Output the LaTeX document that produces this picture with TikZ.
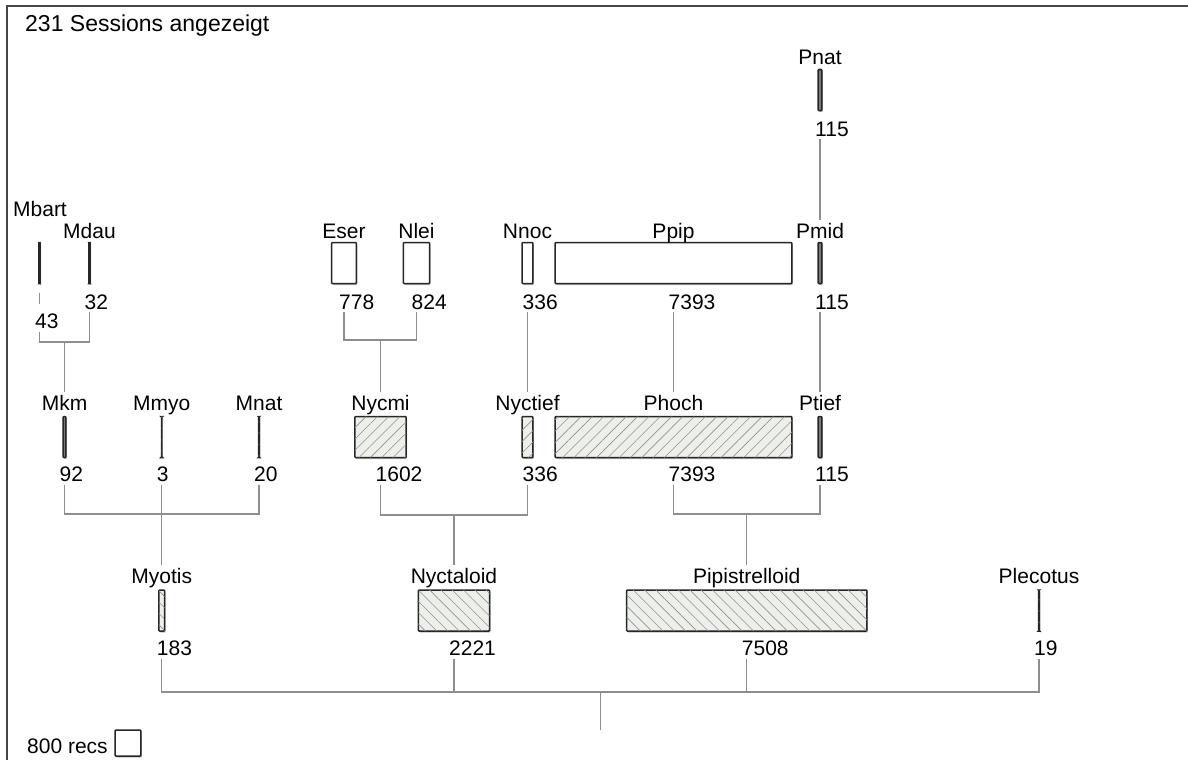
\documentclass[tikz,border=0pt]{standalone}
\usepackage{fontspec}
\setmainfont{Liberation Sans}
\usetikzlibrary{patterns.meta,shadows}
\definecolor{conn}{HTML}{8E8E8E}
\definecolor{edgec}{HTML}{262626}
\definecolor{hbg}{HTML}{EDEFEA}
\definecolor{hline}{HTML}{8F948D}
\definecolor{framec}{HTML}{474747}
\definecolor{thinfill}{HTML}{7A7A7A}
\begin{document}
\begin{tikzpicture}[x=1pt,y=-1pt,
  lbl/.style={font=\fontsize{21}{24}\selectfont, inner sep=0pt, anchor=base},
  val/.style={font=\fontsize{21}{24}\selectfont, inner sep=0pt, anchor=base west},
  bx/.style={draw=edgec, line width=1.5pt, inner sep=0pt, minimum height=41pt, minimum width=#1*0.032pt, rounded corners=0.8pt, drop shadow={shadow xshift=1pt, shadow yshift=-1.5pt, opacity=0.25, fill=black}},
  boxW/.style={bx=#1, fill=white},
  boxC/.style={bx=#1, fill=hbg, postaction={pattern={Lines[angle=45,distance=8pt,line width=0.6pt]}, pattern color=hline}},
  boxD/.style={bx=#1, fill=hbg, postaction={pattern={Lines[angle=-45,distance=8pt,line width=0.6pt]}, pattern color=hline}},
  thinbar/.style={bx=#1, fill=thinfill},
  link/.style={draw=conn, line width=1.3pt, shorten <=3pt, shorten >=3pt},
]
\useasboundingbox (0,0) rectangle (1188,760);
\fill[white] (0,0) rectangle (1188,760);
% frame
\draw[framec, line width=2.2pt] (7,760) -- (7,6) -- (1188,6);
% title
\node[anchor=base west, font=\fontsize{23}{27}\selectfont, inner sep=0pt] (title) at (25,32) {231 Sessions angezeigt};

% ---------- Row A ----------
\node[thinbar=115] (pnat) at (820,90) {};
\node[lbl] (pnatL) at (820,64) {Pnat};
\node[val] (pnatV) at (815,136) {115};

% ---------- Row B ----------
\node[boxW=43] (mbart) at (39.5,263) {};
\node[lbl] (mbartL) at (40,216.5) {Mbart};
\node[val] (mbartV) at (35,328.5) {43};
\node[boxW=32] (mdau) at (89.5,263) {};
\node[lbl] (mdauL) at (89.5,238) {Mdau};
\node[val] (mdauV) at (84.5,309) {32};
\node[boxW=778] (eser) at (344,263) {};
\node[lbl] (eserL) at (344,238) {Eser};
\node[val] (eserV) at (339,309) {778};
\node[boxW=824] (nlei) at (416.5,263) {};
\node[lbl] (nleiL) at (416.5,238) {Nlei};
\node[val] (nleiV) at (411.5,309) {824};
\node[boxW=336] (nnoc) at (527.5,263) {};
\node[lbl] (nnocL) at (527.5,238) {Nnoc};
\node[val] (nnocV) at (522.5,309) {336};
\node[boxW=7393] (ppip) at (673.5,263) {};
\node[lbl] (ppipL) at (673.5,238) {Ppip};
\node[val] (ppipV) at (668.5,309) {7393};
\node[thinbar=115] (pmid) at (820,263) {};
\node[lbl] (pmidL) at (820,238) {Pmid};
\node[val] (pmidV) at (815,309) {115};

% ---------- Row C ----------
\node[thinbar=92] (mkm) at (64.5,437) {};
\node[lbl] (mkmL) at (64.5,410.5) {Mkm};
\node[val] (mkmV) at (59.5,481.5) {92};
\node[boxC=3] (mmyo) at (161.75,437) {};
\node[lbl] (mmyoL) at (161.75,410.5) {Mmyo};
\node[val] (mmyoV) at (156.75,481.5) {3};
\node[boxC=20] (mnat) at (259,437) {};
\node[lbl] (mnatL) at (259,410.5) {Mnat};
\node[val] (mnatV) at (254,481.5) {20};
\node[boxC=1602] (nycmi) at (380.5,437) {};
\node[lbl] (nycmiL) at (380.5,410.5) {Nycmi};
\node[val] (nycmiV) at (375.5,481.5) {1602};
\node[boxC=336] (nyctief) at (527.5,437) {};
\node[lbl] (nyctiefL) at (527.5,410.5) {Nyctief};
\node[val] (nyctiefV) at (522.5,481.5) {336};
\node[boxC=7393] (phoch) at (673.5,437) {};
\node[lbl] (phochL) at (673.5,410.5) {Phoch};
\node[val] (phochV) at (668.5,481.5) {7393};
\node[thinbar=115] (ptief) at (820,437) {};
\node[lbl] (ptiefL) at (820,410.5) {Ptief};
\node[val] (ptiefV) at (815,481.5) {115};

% ---------- Row D ----------
\node[boxD=183] (myotis) at (161.75,610.5) {};
\node[lbl] (myotisL) at (161.75,583.5) {Myotis};
\node[val] (myotisV) at (156.75,655.5) {183};
\node[boxD=2221] (nyctaloid) at (454,610.5) {};
\node[lbl] (nyctaloidL) at (454,583.5) {Nyctaloid};
\node[val] (nyctaloidV) at (449,655.5) {2221};
\node[boxD=7508] (pip) at (746.75,610.5) {};
\node[lbl] (pipL) at (746.75,583.5) {Pipistrelloid};
\node[val] (pipV) at (741.75,655.5) {7508};
\node[boxD=19] (plec) at (1039,610.5) {};
\node[lbl] (plecL) at (1039,583.5) {Plecotus};
\node[val] (plecV) at (1034,655.5) {19};

% ---------- legend ----------
\node[val] (legT) at (27,753.5) {800 recs};
\node[boxW=800, minimum height=26pt, drop shadow={opacity=0}] (legB) at (128,743) {};

% ---------- connectors ----------
\draw[link] (pnatV.south -| pnat) -- (pmidL.north -| pmid);

\draw[link, shorten <=9pt, shorten >=10pt] (mbart.south) -- (mbartV.north -| mbart);
\coordinate (jB1) at (64.5,342);
\draw[link] (mbartV.south -| mbart) |- (jB1) -| (mdauV.south -| mdau);
\draw[link, shorten <=0pt] (jB1) -- (mkmL.north -| jB1);
\coordinate (jB2) at (380.25,340);
\draw[link] (eserV.south -| eser) |- (jB2) -| (nleiV.south -| nlei);
\draw[link, shorten <=0pt] (jB2) -- (nycmiL.north -| jB2);
\draw[link] (nnocV.south -| nnoc) -- (nyctiefL.north -| nnoc);
\draw[link] (ppipV.south -| ppip) -- (phochL.north -| ppip);
\draw[link] (pmidV.south -| pmid) -- (ptiefL.north -| pmid);

\coordinate (jC1) at (161.75,514);
\draw[link] (mkmV.south -| mkm) |- (jC1) -| (mnatV.south -| mnat);
\draw[link] (mmyoV.south -| mmyo) -- (myotisL.north -| mmyo);
\coordinate (jC2) at (454,515);
\draw[link] (nycmiV.south -| nycmi) |- (jC2) -| (nyctiefV.south -| nyctief);
\draw[link, shorten <=0pt] (jC2) -- (nyctaloidL.north -| jC2);
\coordinate (jC3) at (746.75,514);
\draw[link] (phochV.south -| phoch) |- (jC3) -| (ptiefV.south -| ptief);
\draw[link, shorten <=0pt] (jC3) -- (pipL.north -| jC3);

\coordinate (jD) at (600.4,692);
\coordinate (root) at (600.4,730);
\draw[link] (myotisV.south -| myotis) |- (jD) -| (plecV.south -| plec);
\draw[link, shorten >=0pt] (nyctaloidV.south -| nyctaloid) -- (nyctaloid |- jD);
\draw[link, shorten >=0pt] (pipV.south -| pip) -- (pip |- jD);
\draw[link, shorten <=0pt, shorten >=0pt] (jD) -- (root);
\end{tikzpicture}
\end{document}
